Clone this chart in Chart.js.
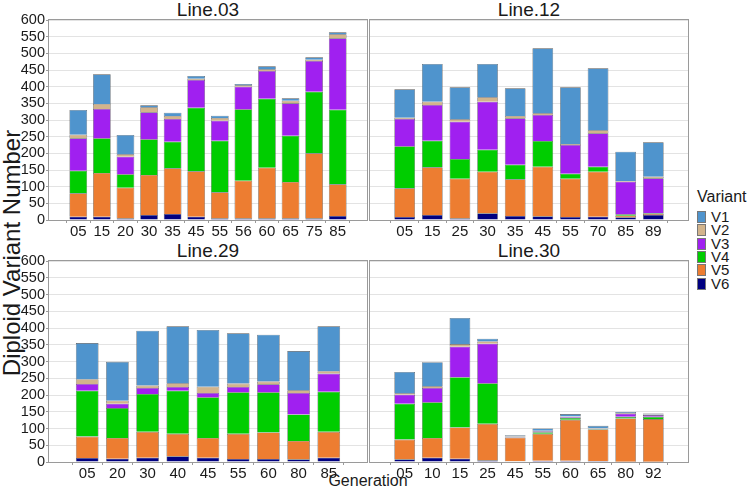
<!DOCTYPE html>
<html>
<head>
<meta charset="utf-8">
<script src="https://cdn.jsdelivr.net/npm/chart.js@4.4.1/dist/chart.umd.min.js"></script>
<style>
  body { margin: 0; background: #fff; font-family: 'Liberation Sans', Arial, sans-serif; }
  #wrap { position: relative; width: 747px; height: 492px; overflow: hidden; }
  canvas { position: absolute; }
  .txt { position: absolute; color: #1a1a1a; white-space: nowrap; }
  .ptitle { font-size: 19px; transform: translateX(-50%); }
  .key { position: absolute; width: 9px; height: 12px; border: 0.5px solid #777; box-sizing: border-box; }
  .klab { position: absolute; font-size: 15px; color: #1a1a1a; }
</style>
</head>
<body>
<div id="wrap">
  <div class="txt ptitle" style="left:208px; top:-1px;">Line.03</div>
  <div class="txt ptitle" style="left:529px; top:-1px;">Line.12</div>
  <div class="txt ptitle" style="left:208px; top:240px;">Line.29</div>
  <div class="txt ptitle" style="left:529px; top:240px;">Line.30</div>
  <div class="txt" style="left:368px; top:472px; font-size:16px; transform:translateX(-50%);">Generation</div>
  <div class="txt" style="left:12px; top:253px; font-size:24px; transform:translate(-50%,-50%) rotate(-90deg);">Diploid Variant Number</div>
  <div id="legend"></div>
  <canvas id="c03"></canvas>
  <canvas id="c12"></canvas>
  <canvas id="c29"></canvas>
  <canvas id="c30"></canvas>
</div>
<script>
// Line.03
const gens03 = ['05', '15', '20', '30', '35', '45', '55', '56', '60', '65', '75', '85'];
const l03V6 = [10, 10, 5, 15, 18, 10, 5, 5, 5, 5, 5, 12];
const l03V5 = [70, 131, 92, 120, 137, 136, 78, 113, 152, 109, 195, 95];
const l03V4 = [68, 104, 40, 107, 80, 191, 155, 214, 207, 139, 185, 224];
const l03V3 = [97, 88, 53, 81, 68, 83, 60, 68, 83, 97, 92, 214];
const l03V2 = [11, 15, 7, 15, 9, 4, 8, 4, 5, 8, 4, 12];
const l03V1 = [74, 89, 58, 6, 10, 8, 7, 4, 9, 7, 7, 6];

// Line.12
const gens12 = ['05', '15', '25', '30', '35', '45', '55', '70', '85', '89'];
const l12V6 = [9, 15, 5, 20, 12, 11, 9, 10, 8, 15];
const l12V5 = [86, 143, 119, 125, 110, 149, 115, 135, 5, 3];
const l12V4 = [126, 80, 59, 66, 44, 77, 15, 15, 4, 2];
const l12V3 = [82, 107, 112, 144, 139, 78, 86, 100, 98, 105];
const l12V2 = [4, 10, 7, 13, 7, 5, 3, 9, 2, 5];
const l12V1 = [85, 113, 96, 100, 83, 195, 170, 186, 88, 103];

// Line.29
const gens29 = ['05', '20', '30', '40', '45', '55', '60', '80', '85'];
const l29V6 = [12, 10, 13, 17, 13, 9, 9, 8, 13];
const l29V5 = [64, 62, 77, 67, 59, 75, 79, 55, 77];
const l29V4 = [137, 89, 113, 129, 121, 124, 120, 79, 120];
const l29V3 = [20, 13, 18, 11, 13, 16, 24, 64, 54];
const l29V2 = [14, 9, 7, 11, 19, 10, 8, 8, 7];
const l29V1 = [108, 116, 164, 170, 169, 150, 140, 117, 134];

// Line.30
const gens30 = ['05', '10', '15', '25', '45', '55', '60', '65', '80', '92'];
const l30V6 = [8, 13, 10, 5, 2, 4, 4, 3, 1, 1];
const l30V5 = [59, 59, 93, 109, 71, 80, 122, 94, 129, 127];
const l30V4 = [107, 106, 150, 121, 1, 5, 6, 2, 5, 7];
const l30V3 = [27, 43, 91, 118, 2, 3, 3, 1, 9, 5];
const l30V2 = [4, 5, 8, 7, 1, 1, 1, 1, 2, 2];
const l30V1 = [64, 72, 78, 8, 3, 7, 7, 7, 3, 3];

const variants = ['V1', 'V2', 'V3', 'V4', 'V5', 'V6'];
const yTicks = [0, 50, 100, 150, 200, 250, 300, 350, 400, 450, 500, 550, 600];

const colors = {
    V1: '#4f94cd',
    V2: '#d2b48c',
    V3: '#a020f0',
    V4: '#00cd00',
    V5: '#ed7d31',
    V6: '#000080'
};
const FONT = "'Liberation Sans', Arial, sans-serif";

// legend (html)
const legend = document.getElementById('legend');
legend.innerHTML = '<div class="txt" style="left:697px; top:188px; font-size:16px;">Variant</div>';
variants.forEach((v, i) => {
    const top = 211 + i * 13.3;
    legend.innerHTML += `<div class="key" style="left:697px; top:${top}px; background:${colors[v]};"></div>` +
        `<div class="klab" style="left:711px; top:${top - 3}px;">${v}</div>`;
});

// panel frame
const framePlugin = {
    id: 'frame',
    afterDraw(chart) {
        const a = chart.chartArea, ctx = chart.ctx;
        ctx.save();
        ctx.strokeStyle = '#9a9a9a';
        ctx.lineWidth = 1;
        ctx.strokeRect(Math.round(a.left) - 0.5, Math.round(a.top) - 0.5,
            Math.round(a.right - a.left) + 1, Math.round(a.bottom - a.top) + 1);
        ctx.restore();
    }
};

function makePanel(id, gens, series, box, showY) {
    const yW = showY ? 49 : 4;
    const padT = 14, padR = 6, xH = 24;
    const cv = document.getElementById(id);
    cv.width = yW + box.w + padR;
    cv.height = padT + box.h + xH;
    cv.style.left = (box.x - yW) + 'px';
    cv.style.top = (box.y - padT) + 'px';

    // stacked bottom-up: V6 first
    const order = ['V6', 'V5', 'V4', 'V3', 'V2', 'V1'];
    const datasets = order.map(v => ({
        label: v,
        data: series[v],
        backgroundColor: colors[v],
        borderColor: '#555',
        borderWidth: 0.6,
        barPercentage: 0.75,
        categoryPercentage: 1
    }));

    new Chart(cv, {
        type: 'bar',
        data: { labels: gens.map((g, i) => i), datasets: datasets },
        plugins: [framePlugin],
        options: {
            responsive: false,
            animation: false,
            layout: { padding: { top: padT, right: padR, left: 0, bottom: 0 } },
            plugins: { legend: { display: false }, tooltip: { enabled: false } },
            scales: {
                x: {
                    type: 'linear',
                    stacked: true,
                    min: -0.68,
                    max: gens.length - 1 + 0.68,
                    afterBuildTicks: s => { s.ticks = gens.map((g, i) => ({ value: i })); },
                    afterFit: s => { s.height = xH; },
                    grid: { drawOnChartArea: false, tickLength: 3, tickColor: '#9a9a9a' },
                    border: { display: false },
                    ticks: {
                        callback: v => gens[v],
                        color: '#1a1a1a',
                        font: { family: FONT, size: 15 },
                        padding: 0,
                        maxRotation: 0,
                        autoSkip: false
                    }
                },
                y: {
                    stacked: true,
                    min: 0,
                    max: 600,
                    afterBuildTicks: s => { s.ticks = yTicks.map(v => ({ value: v })); },
                    afterFit: s => { s.width = yW; },
                    grid: { color: '#e3e3e3', tickLength: showY ? 3 : 0, tickColor: '#9a9a9a' },
                    border: { display: false },
                    ticks: {
                        display: showY,
                        autoSkip: false,
                        color: '#1a1a1a',
                        font: { family: FONT, size: 14.5 },
                        padding: 1
                    }
                }
            }
        }
    });
}

makePanel('c03', gens03, { V1: l03V1, V2: l03V2, V3: l03V3, V4: l03V4, V5: l03V5, V6: l03V6 },
    { x: 49, y: 20, w: 318, h: 200 }, true);
makePanel('c12', gens12, { V1: l12V1, V2: l12V2, V3: l12V3, V4: l12V4, V5: l12V5, V6: l12V6 },
    { x: 370, y: 20, w: 318, h: 200 }, false);
makePanel('c29', gens29, { V1: l29V1, V2: l29V2, V3: l29V3, V4: l29V4, V5: l29V5, V6: l29V6 },
    { x: 49, y: 261, w: 318, h: 201 }, true);
makePanel('c30', gens30, { V1: l30V1, V2: l30V2, V3: l30V3, V4: l30V4, V5: l30V5, V6: l30V6 },
    { x: 370, y: 261, w: 318, h: 201 }, false);
</script>
</body>
</html>
